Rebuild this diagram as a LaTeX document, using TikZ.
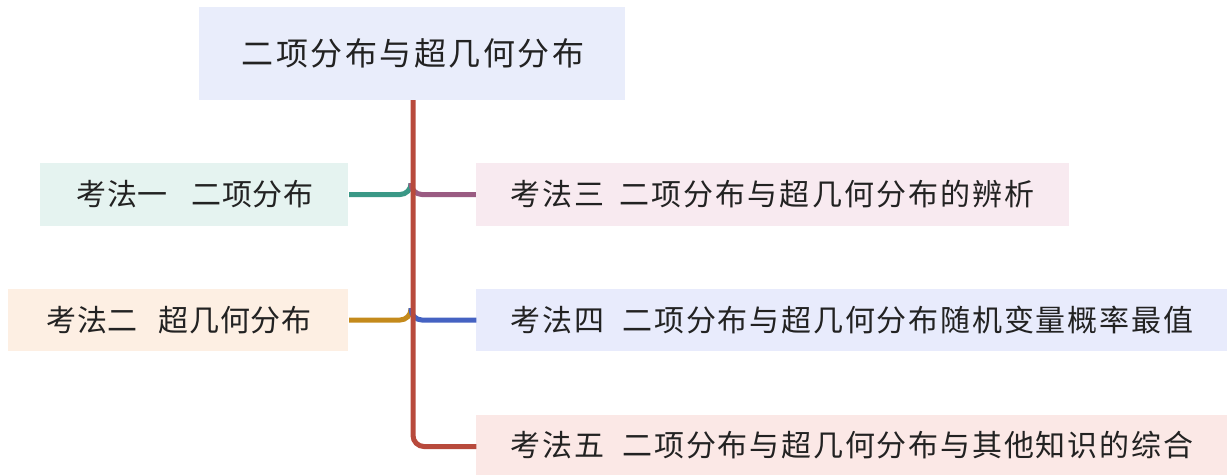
\documentclass[tikz,border=0pt]{standalone}
\usepackage{fontspec}
\newfontfamily\cjk[LetterSpace=2]{Noto Sans CJK SC}
\newfontfamily\cjkwide[LetterSpace=7]{Noto Sans CJK SC}
\newfontfamily\cjkroot[LetterSpace=8]{Noto Sans CJK SC}
\newfontfamily\cjkmid[LetterSpace=6]{Noto Sans CJK SC}
\definecolor{rootfill}{HTML}{E9EDFB}
\definecolor{fa}{HTML}{E5F3F0}
\definecolor{fb}{HTML}{FDEFE3}
\definecolor{fc}{HTML}{F8EAF0}
\definecolor{fd}{HTML}{E8EBFC}
\definecolor{fe}{HTML}{FBE8E6}
\definecolor{trunkc}{HTML}{B84A3C}
\definecolor{tealc}{HTML}{3A9886}
\definecolor{purplec}{HTML}{9A5B82}
\definecolor{goldc}{HTML}{C48A1C}
\definecolor{bluec}{HTML}{4562C2}
\definecolor{txt}{HTML}{222222}
\begin{document}
\begin{tikzpicture}[x=1pt,y=-1pt,
  box/.style={inner sep=0pt, text=txt, font=\cjk\fontsize{30}{36}\selectfont},
  link/.style={line width=5pt, rounded corners=11pt}]
\useasboundingbox (0,0) rectangle (1227,475);
\fill[rootfill] (199,7) rectangle (625,100);
\fill[fa] (40,163) rectangle (348,226);
\fill[fb] (8,289) rectangle (348,351);
\fill[fc] (476,163) rectangle (1069,226);
\fill[fd] (476,289) rectangle (1227,351);
\fill[fe] (476,415) rectangle (1227,475);
\node[box, minimum width=426pt, minimum height=93pt, font=\cjkroot\fontsize{32}{38}\selectfont] (root) at (413,53.5) {二项分布与超几何分布};
\node[box, minimum width=308pt, minimum height=63pt] (a1) at (195,194.5) {考法一\hspace{0.8em}二项分布};
\node[box, minimum width=340pt, minimum height=62pt] (a2) at (179,320) {考法二\hspace{0.7em}超几何分布};
\node[box, minimum width=593pt, minimum height=63pt, font=\cjkwide\fontsize{30}{36}\selectfont] (a3) at (772.5,194.5) {考法三\hspace{0.5em}二项分布与超几何分布的辨析};
\node[box, minimum width=751pt, minimum height=62pt, font=\cjkmid\fontsize{30}{36}\selectfont] (a4) at (852,320) {考法四\hspace{0.6em}二项分布与超几何分布随机变量概率最值};
\node[box, minimum width=751pt, minimum height=60pt, font=\cjkmid\fontsize{30}{36}\selectfont] (a5) at (852,445) {考法五\hspace{0.6em}二项分布与超几何分布与其他知识的综合};
\coordinate (j1) at (411,183);
\coordinate (j2) at (411,308);
\draw[link, tealc] (a1.east) -| (j1);
\draw[link, purplec] (j1) |- (a3.west);
\draw[link, goldc] (a2.east) -| (j2);
\draw[link, bluec] (j2) |- (a4.west);
\draw[link, trunkc] (root.south) |- ([yshift=-1.5pt]a5.west);
\end{tikzpicture}
\end{document}
